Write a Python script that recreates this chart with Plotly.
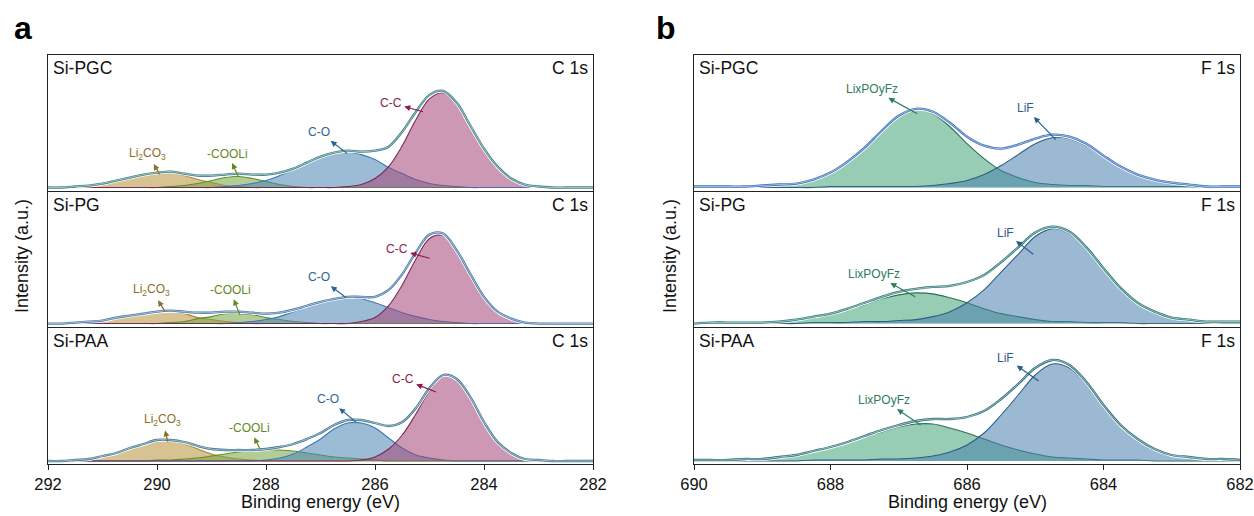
import plotly.graph_objects as go

# ---------------- data (intensity in a.u. above baseline) ----------------
energy_c = [292.0, 291.75, 291.5, 291.25, 291.0, 290.75, 290.5, 290.25, 290.0, 289.75,
            289.5, 289.25, 289.0, 288.75, 288.5, 288.25, 288.0, 287.75, 287.5, 287.25,
            287.0, 286.75, 286.5, 286.25, 286.0, 285.75, 285.5, 285.25, 285.0, 284.75,
            284.5, 284.25, 284.0, 283.75, 283.5, 283.25, 283.0, 282.75, 282.5, 282.25, 282.0]
energy_f = [690.0, 689.75, 689.5, 689.25, 689.0, 688.75, 688.5, 688.25, 688.0, 687.75,
            687.5, 687.25, 687.0, 686.75, 686.5, 686.25, 686.0, 685.75, 685.5, 685.25,
            685.0, 684.75, 684.5, 684.25, 684.0, 683.75, 683.5, 683.25, 683.0, 682.75,
            682.5, 682.25, 682.0]

samples = ["Si-PGC", "Si-PG", "Si-PAA"]
c_ticks = [292, 290, 288, 286, 284, 282]
f_ticks = [690, 688, 686, 684, 682]

# C 1s components: Si-PGC
li2co3_pgc = [0, 0, 1, 2, 4, 7, 10, 13, 15, 15, 12, 8, 5, 2, 1, 0,
              0, 0, 0, 0, 0, 0, 0, 0, 0, 0, 0, 0, 0, 0, 0, 0, 0, 0, 0, 0, 0, 0, 0, 0, 0]
cooli_pgc = [0, 0, 0, 0, 0, 0, 0, 0, 0,
             1, 2, 4, 7, 10, 11, 9, 6, 3, 1,
             0, 0, 0, 0, 0, 0, 0, 0, 0, 0, 0, 0, 0, 0, 0, 0, 0, 0, 0, 0, 0, 0]
co_pgc = [0, 0, 0, 0, 0, 0, 0, 0, 0, 0, 0, 0, 0,
          1, 2, 4, 7, 12, 18, 25, 31, 35, 36, 33, 28, 20, 14, 8, 4, 2, 1,
          0, 0, 0, 0, 0, 0, 0, 0, 0, 0]
cc_pgc = [0, 0, 0, 0, 0, 0, 0, 0, 0, 0, 0, 0, 0, 0, 0, 0, 0, 0, 0, 0, 0, 0,
          1, 3, 9, 21, 42, 68, 89, 95, 84, 62, 39, 21, 9, 3, 1,
          0, 0, 0, 0]

# C 1s components: Si-PG
li2co3_pg = [0, 0, 1, 2, 3, 6, 8, 10, 12, 12, 10, 6, 4, 2, 1, 0,
             0, 0, 0, 0, 0, 0, 0, 0, 0, 0, 0, 0, 0, 0, 0, 0, 0, 0, 0, 0, 0, 0, 0, 0, 0]
cooli_pg = [0, 0, 0, 0, 0, 0, 0, 0, 0,
            1, 2, 5, 7, 10, 10, 9, 6, 4, 2, 1,
            0, 0, 0, 0, 0, 0, 0, 0, 0, 0, 0, 0, 0, 0, 0, 0, 0, 0, 0, 0, 0]
co_pg = [0, 0, 0, 0, 0, 0, 0, 0, 0, 0, 0, 0, 0, 0,
         1, 2, 4, 7, 12, 17, 22, 25, 27, 25, 21, 16, 11, 7, 4, 2, 1,
         0, 0, 0, 0, 0, 0, 0, 0, 0, 0]
cc_pg = [0, 0, 0, 0, 0, 0, 0, 0, 0, 0, 0, 0, 0, 0, 0, 0, 0, 0, 0, 0, 0, 0, 0,
         2, 6, 18, 39, 65, 86, 89, 73, 50, 27, 12, 5, 1,
         0, 0, 0, 0, 0]

# C 1s components: Si-PAA
li2co3_paa = [0, 0, 1, 2, 5, 8, 13, 17, 20, 20, 17, 12, 7, 4, 2, 1, 0,
              0, 0, 0, 0, 0, 0, 0, 0, 0, 0, 0, 0, 0, 0, 0, 0, 0, 0, 0, 0, 0, 0, 0, 0]
cooli_paa = [0, 0, 0, 0, 0, 0,
             0, 0, 1, 1, 2, 3, 5, 7, 9, 10, 11, 11, 10, 8, 6, 4, 3, 2, 1, 0,
             0, 0, 0, 0, 0, 0, 0, 0, 0, 0, 0, 0, 0, 0, 0]
co_paa = [0, 0, 0, 0, 0, 0, 0, 0, 0, 0, 0, 0, 0, 0, 0, 0,
          1, 3, 7, 14, 22, 32, 38, 38, 33, 23, 13, 6, 3, 1,
          0, 0, 0, 0, 0, 0, 0, 0, 0, 0, 0]
cc_paa = [0, 0, 0, 0, 0, 0, 0, 0, 0, 0, 0, 0, 0, 0, 0, 0, 0, 0, 0, 0, 0, 0, 0,
          1, 4, 12, 26, 47, 70, 85, 82, 64, 39, 19, 8, 2, 1,
          0, 0, 0, 0]

# F 1s components
lipof_pgc = [1, 1, 1, 1, 2, 3, 4, 8, 14, 25, 39, 56, 71, 78, 74, 61,
             44, 29, 17, 10, 5, 3, 2, 2, 1, 1, 1, 1, 1, 1, 0, 0, 0]
lif_pgc = [0, 0, 0, 0, 0, 0, 0, 0,
           1, 1, 1, 1, 1, 1, 2, 4, 7, 13, 22, 33, 44, 50, 49, 42, 31, 20, 12, 7, 4, 2, 1, 1, 1]
lipof_pg = [0, 1, 1, 1, 1, 2, 4, 6, 9, 14, 19, 25, 29, 31, 30, 26,
            21, 15, 10, 7, 4, 2, 2, 1, 1, 1, 0, 0, 0, 0, 0, 0, 0]
lif_pg = [0, 0, 0, 0, 0, 0, 0, 1,
          1, 1, 2, 2, 3, 4, 7, 12, 21, 34, 52, 70, 88, 96, 91, 76, 55, 35, 21, 12, 6, 4, 2, 2, 2]
lipof_paa = [1, 1, 1, 2, 2, 4, 6, 9, 13, 18, 24, 29, 34, 37, 37, 33,
             28, 22, 16, 11, 7, 4, 3, 2, 1, 1, 1, 0, 0, 0, 0, 0, 0]
lif_paa = [0, 0, 0, 0, 0, 0, 0, 1,
           1, 1, 1, 2, 2, 3, 5, 9, 16, 28, 46, 66, 86, 97, 93, 77, 55, 35, 21, 12, 6, 4, 2, 2, 1]

for arr in (li2co3_pgc, cooli_pgc, co_pgc, cc_pgc, li2co3_pg, cooli_pg, co_pg, cc_pg,
            li2co3_paa, cooli_paa, co_paa, cc_paa):
    assert len(arr) == len(energy_c), len(arr)
for arr in (lipof_pgc, lif_pgc, lipof_pg, lif_pg, lipof_paa, lif_paa):
    assert len(arr) == len(energy_f), len(arr)

# peak-label positions: (text_x, text_y, arrow_point_x, arrow_point_y)
c_labels = [
    {"Li2CO3": (290.17, 34, 289.95, 13), "COOLi": (288.7, 34, 288.51, 11),
     "C-O": (287.03, 56, 286.51, 34), "C-C": (285.71, 85, 285.12, 76)},
    {"Li2CO3": (290.1, 34, 289.85, 12), "COOLi": (288.66, 34, 288.48, 9),
     "C-O": (287.03, 47, 286.53, 26), "C-C": (285.6, 75, 285.0, 66)},
    {"Li2CO3": (289.9, 41, 289.8, 19), "COOLi": (288.3, 33, 288.11, 12),
     "C-O": (286.86, 62, 286.35, 39), "C-C": (285.49, 82, 284.88, 69)},
]
f_labels = [
    {"LixPOyFz": (687.39, 99, 686.73, 74), "LiF": (685.15, 80, 684.7, 48)},
    {"LixPOyFz": (687.36, 50, 686.76, 27), "LiF": (685.44, 92, 685.03, 70)},
    {"LixPOyFz": (687.22, 61, 686.68, 36), "LiF": (685.43, 103, 684.95, 80)},
]

# ---------------- styling ----------------
FONT = "Arial, 'Liberation Sans', Helvetica, sans-serif"
c_style = {
    "Li2CO3": dict(fill="rgba(182,146,55,0.55)", line="#a8873a", text="#8b6d2c",
                   label="Li<sub>2</sub>CO<sub>3</sub>"),
    "COOLi": dict(fill="rgba(119,164,64,0.55)", line="#5e8f2a", text="#5f8a1e", label="-COOLi"),
    "C-O": dict(fill="rgba(73,133,177,0.55)", line="#3b78b8", text="#2c6496", label="C-O"),
    "C-C": dict(fill="rgba(164,68,119,0.55)", line="#7a2a55", text="#8b1c4c", label="C-C"),
}
f_style = {
    "LixPOyFz": dict(fill="rgba(64,164,119,0.55)", line="#2f6e55", text="#2e7d5a", label="LixPOyFz"),
    "LiF": dict(fill="rgba(73,128,173,0.55)", line="#2f5f82", text="#2a5d8c", label="LiF"),
}
env_colors_c = ["#3d7f84", "#4677a8", "#3f7593"]
env_colors_f = ["#3b6fbf", "#2d7a78", "#2d6f7a"]

c_components = [
    {"Li2CO3": li2co3_pgc, "COOLi": cooli_pgc, "C-O": co_pgc, "C-C": cc_pgc},
    {"Li2CO3": li2co3_pg, "COOLi": cooli_pg, "C-O": co_pg, "C-C": cc_pg},
    {"Li2CO3": li2co3_paa, "COOLi": cooli_paa, "C-O": co_paa, "C-C": cc_paa},
]
f_components = [
    {"LixPOyFz": lipof_pgc, "LiF": lif_pgc},
    {"LixPOyFz": lipof_pg, "LiF": lif_pg},
    {"LixPOyFz": lipof_paa, "LiF": lif_paa},
]

W, H = 1254, 516
def py(px):
    return 1 - px / H

x_dom_left = [48 / W, 593 / W]
x_dom_right = [694 / W, 1240 / W]
y_doms = [[py(190.5), py(55)], [py(326.5), py(192)], [py(464), py(328)]]

fig = go.Figure()
annotations = []
layout_axes = {}


def add_panel(k, energy, comps, styles, labels, env_color, xdom, ydom, xrange, ticks, sample, core, bottom):
    key = "" if k == 1 else str(k)
    xa, ya = "x" + key, "y" + key
    for name, vals in comps.items():
        st = styles[name]
        fig.add_trace(go.Scatter(x=energy, y=vals, mode="lines", fill="tozeroy",
                                 fillcolor=st["fill"],
                                 line=dict(color=st["line"], width=1.1, shape="spline", smoothing=1.0),
                                 xaxis=xa, yaxis=ya, hoverinfo="skip", showlegend=False))
    env = [sum(v) for v in zip(*comps.values())]
    fig.add_trace(go.Scatter(x=energy, y=env, mode="lines",
                             line=dict(color="white", width=4.0, shape="spline", smoothing=1.0),
                             xaxis=xa, yaxis=ya, hoverinfo="skip", showlegend=False))
    fig.add_trace(go.Scatter(x=energy, y=env, mode="lines",
                             line=dict(color=env_color, width=2.3, shape="spline", smoothing=1.0),
                             xaxis=xa, yaxis=ya, hoverinfo="skip", showlegend=False))
    fig.add_trace(go.Scatter(x=energy, y=env, mode="lines",
                             line=dict(color="#e6eeee", width=0.6, shape="spline", smoothing=1.0),
                             xaxis=xa, yaxis=ya, hoverinfo="skip", showlegend=False))

    xaxis = dict(domain=xdom, range=xrange, anchor=ya, showline=True, mirror=True, automargin=False,
                 linecolor="#222222", linewidth=1.3, showgrid=False, zeroline=False)
    if bottom:
        xaxis.update(tickmode="array", tickvals=ticks, ticktext=[str(t) for t in ticks],
                     ticks="outside", ticklen=5, tickwidth=1.2, tickcolor="#222222",
                     tickfont=dict(family=FONT, size=16.5, color="#111111"))
    else:
        xaxis.update(showticklabels=False, ticks="")
    yaxis = dict(domain=ydom, range=[-3, 133], anchor=xa, showline=True, mirror=True, automargin=False,
                 linecolor="#222222", linewidth=1.3, showgrid=False, zeroline=False,
                 showticklabels=False, ticks="")
    layout_axes["xaxis" + key] = xaxis
    layout_axes["yaxis" + key] = yaxis

    annotations.append(dict(text=sample, xref=f"{xa} domain", yref=f"{ya} domain", x=0.006, y=0.99,
                            xanchor="left", yanchor="top", showarrow=False,
                            font=dict(family=FONT, size=17.5, color="#111111")))
    annotations.append(dict(text=core, xref=f"{xa} domain", yref=f"{ya} domain", x=0.995, y=0.99,
                            xanchor="right", yanchor="top", showarrow=False,
                            font=dict(family=FONT, size=17.5, color="#111111")))
    for name, (tx, ty, fx, fy) in labels.items():
        st = styles[name]
        annotations.append(dict(text=st["label"], x=fx, y=fy, xref=xa, yref=ya,
                                ax=tx, ay=ty, axref=xa, ayref=ya,
                                showarrow=True, arrowside="start",
                                startarrowhead=2, startarrowsize=1.0, startstandoff=1,
                                arrowwidth=1.2, arrowcolor=st["text"],
                                font=dict(family=FONT, size=12, color=st["text"])))


for i in range(3):
    add_panel(i + 1, energy_c, c_components[i], c_style, c_labels[i], env_colors_c[i],
              x_dom_left, y_doms[i], [292, 282], c_ticks, samples[i], "C 1s", i == 2)
for i in range(3):
    add_panel(i + 4, energy_f, f_components[i], f_style, f_labels[i], env_colors_f[i],
              x_dom_right, y_doms[i], [690, 682], f_ticks, samples[i], "F 1s", i == 2)

# figure-level texts
for xc in (320.5, 967):
    annotations.append(dict(text="Binding energy (eV)", xref="paper", yref="paper", x=xc / W, y=py(502),
                            xanchor="center", yanchor="middle", showarrow=False,
                            font=dict(family=FONT, size=18, color="#111111")))
for xc in (22, 670):
    annotations.append(dict(text="Intensity (a.u.)", xref="paper", yref="paper", x=xc / W, y=py(256),
                            xanchor="center", yanchor="middle", showarrow=False, textangle=-90,
                            font=dict(family=FONT, size=18, color="#111111")))
for letter, xc in (("a", 23), ("b", 666)):
    annotations.append(dict(text=f"<b>{letter}</b>", xref="paper", yref="paper", x=xc / W, y=py(28),
                            xanchor="center", yanchor="middle", showarrow=False,
                            font=dict(family=FONT, size=32, color="#000000")))

fig.update_layout(width=W, height=H, margin=dict(l=0, r=0, t=0, b=0, autoexpand=False),
                  paper_bgcolor="white", plot_bgcolor="white", showlegend=False,
                  annotations=annotations, **layout_axes)

fig.write_html("out.html", config={"displayModeBar": False},
               post_script="document.body.style.margin='0px'; document.body.style.overflow='hidden';")
